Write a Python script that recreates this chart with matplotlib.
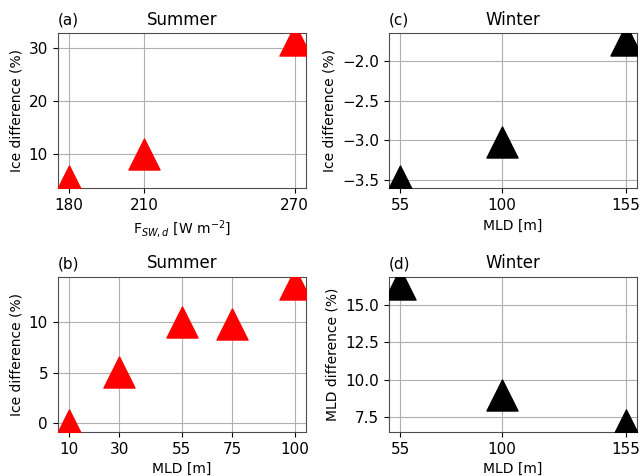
import matplotlib.pyplot as plt
from matplotlib.ticker import MultipleLocator

# (a) summer, shortwave forcing
fsw = [180, 210, 270]
ice_fsw = [4.86, 10.0, 31.44]

# (b) summer, mixed layer depth
mld_summer = [10, 30, 55, 75, 100]
ice_mld_summer = [-0.2, 5.02, 10.0, 9.82, 13.82]

# (c) winter, ice difference vs MLD
mld_winter = [55, 100, 155]
ice_mld_winter = [-3.516, -3.02, -1.739]

# (d) winter, MLD difference vs MLD
mld_diff_winter = [16.39, 8.96, 7.0]

fig, axs = plt.subplots(2, 2, figsize=(6.42, 4.76), dpi=100)

panels = [
    (axs[0, 0], fsw, ice_fsw, 'red', '(a)', 'Summer', r'F$_{SW,d}$ [W m$^{-2}$]', 'Ice difference (%)'),
    (axs[1, 0], mld_summer, ice_mld_summer, 'red', '(b)', 'Summer', 'MLD [m]', 'Ice difference (%)'),
    (axs[0, 1], mld_winter, ice_mld_winter, 'black', '(c)', 'Winter', 'MLD [m]', 'Ice difference (%)'),
    (axs[1, 1], mld_winter, mld_diff_winter, 'black', '(d)', 'Winter', 'MLD [m]', 'MLD difference (%)'),
]

for ax, x, y, c, tag, season, xlab, ylab in panels:
    ax.scatter(x, y, marker='^', s=500, color=c, zorder=3)
    ax.set_xticks(x)
    ax.grid(True, color='#b0b0b0', lw=0.8)
    ax.set_axisbelow(True)
    ax.set_title(season, fontsize=12)
    ax.set_title(tag, loc='left', fontsize=11)
    ax.set_xlabel(xlab, fontsize=10)
    ax.set_ylabel(ylab, fontsize=10)
    ax.tick_params(labelsize=11)
    for sp in ax.spines.values():
        sp.set_color('0.3')

axs[1, 1].yaxis.set_major_locator(MultipleLocator(2.5))
axs[0, 1].yaxis.set_major_locator(MultipleLocator(0.5))

plt.subplots_adjust(left=0.090, right=0.992, bottom=0.0924, top=0.9307,
                    wspace=0.335, hspace=0.566)
plt.savefig('out.png', dpi=100)
